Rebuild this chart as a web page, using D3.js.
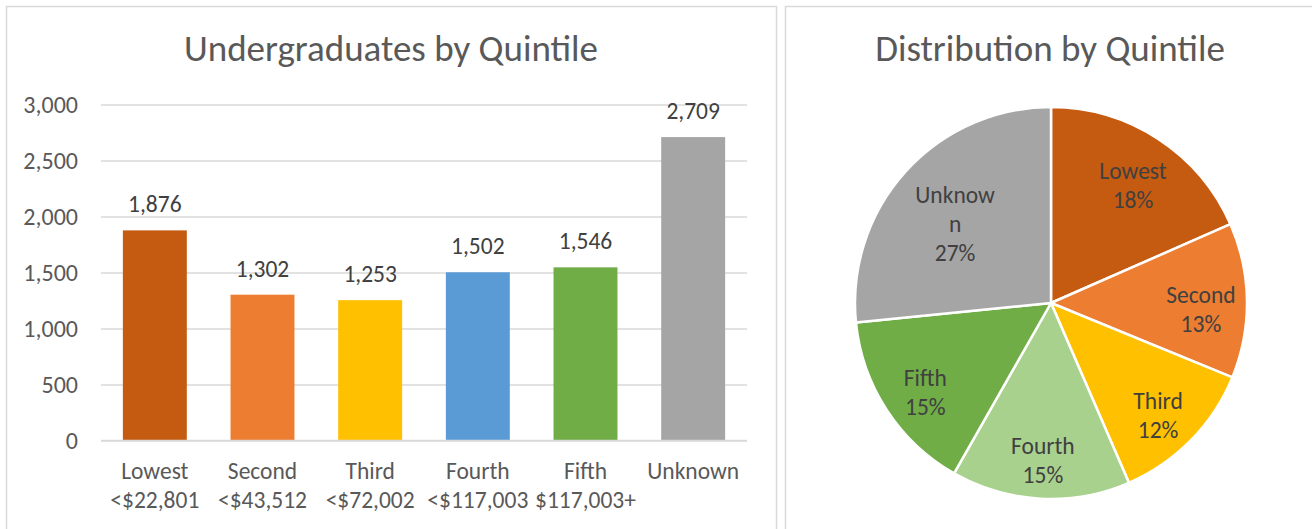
<!DOCTYPE html>
<html>
<head>
<meta charset="utf-8">
<script src="https://cdn.jsdelivr.net/npm/d3@7"></script>
<style>
    body { margin: 0; background: #fff; }
    svg text { font-family: Carlito, Calibri, Lato, sans-serif; }
</style>
</head>
<body>
<svg id="chart" width="1312" height="529"></svg>
<script>
// Data
var categories = ["Lowest", "Second", "Third", "Fourth", "Fifth", "Unknown"];
var incomeLabels = ["<$22,801", "<$43,512", "<$72,002", "<$117,003", "$117,003+", ""];
var counts = [1876, 1302, 1253, 1502, 1546, 2709];
var yTicks = [0, 500, 1000, 1500, 2000, 2500, 3000];
var barColors = ["#C55A11", "#ED7D31", "#FFC000", "#5B9BD5", "#70AD47", "#A5A5A5"];
var pieColors = ["#C55A11", "#ED7D31", "#FFC000", "#A9D18E", "#70AD47", "#A5A5A5"];
var pieLabelLines = [["Lowest"], ["Second"], ["Third"], ["Fourth"], ["Fifth"], ["Unknow", "n"]];

var textColor = "#595959";
var labelColor = "#404040";
var fontFamily = "Carlito, Calibri, Lato, sans-serif";

var svg = d3.select("#chart");

// Panel frames
svg.append("rect")
    .attr("x", 6.5).attr("y", 6.5)
    .attr("width", 770).attr("height", 540)
    .attr("fill", "none").attr("stroke", "#D9D9D9").attr("stroke-width", 1.5);
svg.append("rect")
    .attr("x", 785.5).attr("y", 6.5)
    .attr("width", 540).attr("height", 540)
    .attr("fill", "none").attr("stroke", "#D9D9D9").attr("stroke-width", 1.5);

// ---- Bar chart ----
svg.append("text")
    .attr("x", 391).attr("y", 61)
    .attr("text-anchor", "middle")
    .attr("font-size", "37px")
    .attr("font-weight", 300)
    .attr("fill", textColor)
    .text("Undergraduates by Quintile");

var x = d3.scaleBand()
    .domain(categories)
    .range([101, 747])
    .paddingInner(0.406)
    .paddingOuter(0.203);

var y = d3.scaleLinear()
    .domain([0, 3000])
    .range([440.5, 104.5]);

var yAxis = svg.append("g")
    .attr("transform", "translate(101,0)")
    .call(d3.axisLeft(y).tickValues(yTicks).tickSize(-646).tickPadding(23)
        .tickFormat(d3.format(",")));
yAxis.select(".domain").remove();
yAxis.selectAll(".tick line").attr("stroke", "#D9D9D9").attr("stroke-width", 1.5);
yAxis.selectAll(".tick text")
    .attr("fill", textColor)
    .attr("font-size", "24px")
    .attr("font-family", fontFamily);

svg.selectAll(".bar")
    .data(counts)
    .enter()
    .append("rect")
    .attr("class", "bar")
    .attr("x", function (d, i) { return x(categories[i]); })
    .attr("y", function (d) { return y(d); })
    .attr("width", x.bandwidth())
    .attr("height", function (d) { return y(0) - y(d); })
    .attr("fill", function (d, i) { return barColors[i]; });

// redraw baseline on top of bars
svg.append("line")
    .attr("x1", 101).attr("x2", 747)
    .attr("y1", y(0)).attr("y2", y(0))
    .attr("stroke", "#D9D9D9").attr("stroke-width", 1.5);

svg.selectAll(".bar-label")
    .data(counts)
    .enter()
    .append("text")
    .attr("class", "bar-label")
    .attr("x", function (d, i) { return x(categories[i]) + x.bandwidth() / 2; })
    .attr("y", function (d) { return y(d) - 18; })
    .attr("text-anchor", "middle")
    .attr("font-size", "23.5px")
    .attr("fill", labelColor)
    .text(d3.format(","));

var catLabel = svg.selectAll(".cat-label")
    .data(categories)
    .enter()
    .append("text")
    .attr("class", "cat-label")
    .attr("text-anchor", "middle")
    .attr("font-size", "23.5px")
    .attr("fill", textColor);
catLabel.append("tspan")
    .attr("x", function (d) { return x(d) + x.bandwidth() / 2; })
    .attr("y", 479)
    .text(function (d) { return d; });
catLabel.append("tspan")
    .attr("x", function (d) { return x(d) + x.bandwidth() / 2; })
    .attr("y", 508)
    .text(function (d, i) { return incomeLabels[i]; });

// ---- Pie chart ----
svg.append("text")
    .attr("x", 1050).attr("y", 61)
    .attr("text-anchor", "middle")
    .attr("font-size", "37px")
    .attr("font-weight", 300)
    .attr("fill", textColor)
    .text("Distribution by Quintile");

var cx = 1051, cy = 303, radius = 196;
var pie = d3.pie().sort(null)(counts);
var arc = d3.arc().innerRadius(0).outerRadius(radius);
var total = d3.sum(counts);

var pieG = svg.append("g").attr("transform", "translate(" + cx + "," + cy + ")");
pieG.selectAll(".slice")
    .data(pie)
    .enter()
    .append("path")
    .attr("class", "slice")
    .attr("d", arc)
    .attr("fill", function (d, i) { return pieColors[i]; })
    .attr("stroke", "#fff")
    .attr("stroke-width", 2.5)
    .attr("stroke-linejoin", "round");

// labels sit around 3/4 of the radius, taller labels a bit further in
function labelPos(d, i) {
    var r = pieLabelLines[i].length > 1 ? radius * 0.66 : radius * 0.765;
    var c = d3.arc().innerRadius(r).outerRadius(r).centroid(d);
    return [c[0], c[1] + 8];
}

var pl = pieG.selectAll(".pie-label")
    .data(pie)
    .enter()
    .append("text")
    .attr("class", "pie-label")
    .attr("text-anchor", "middle")
    .attr("font-size", "23.5px")
    .attr("fill", labelColor)
    .attr("transform", function (d, i) { return "translate(" + labelPos(d, i) + ")"; });
pl.each(function (d, i) {
    var lines = pieLabelLines[i].concat([Math.round(d.value / total * 100) + "%"]);
    var t = d3.select(this);
    var y0 = -(lines.length - 1) * 29 / 2 + 8;
    lines.forEach(function (s, k) {
        t.append("tspan").attr("x", 0).attr("y", y0 + k * 29).text(s);
    });
});
</script>
</body>
</html>
